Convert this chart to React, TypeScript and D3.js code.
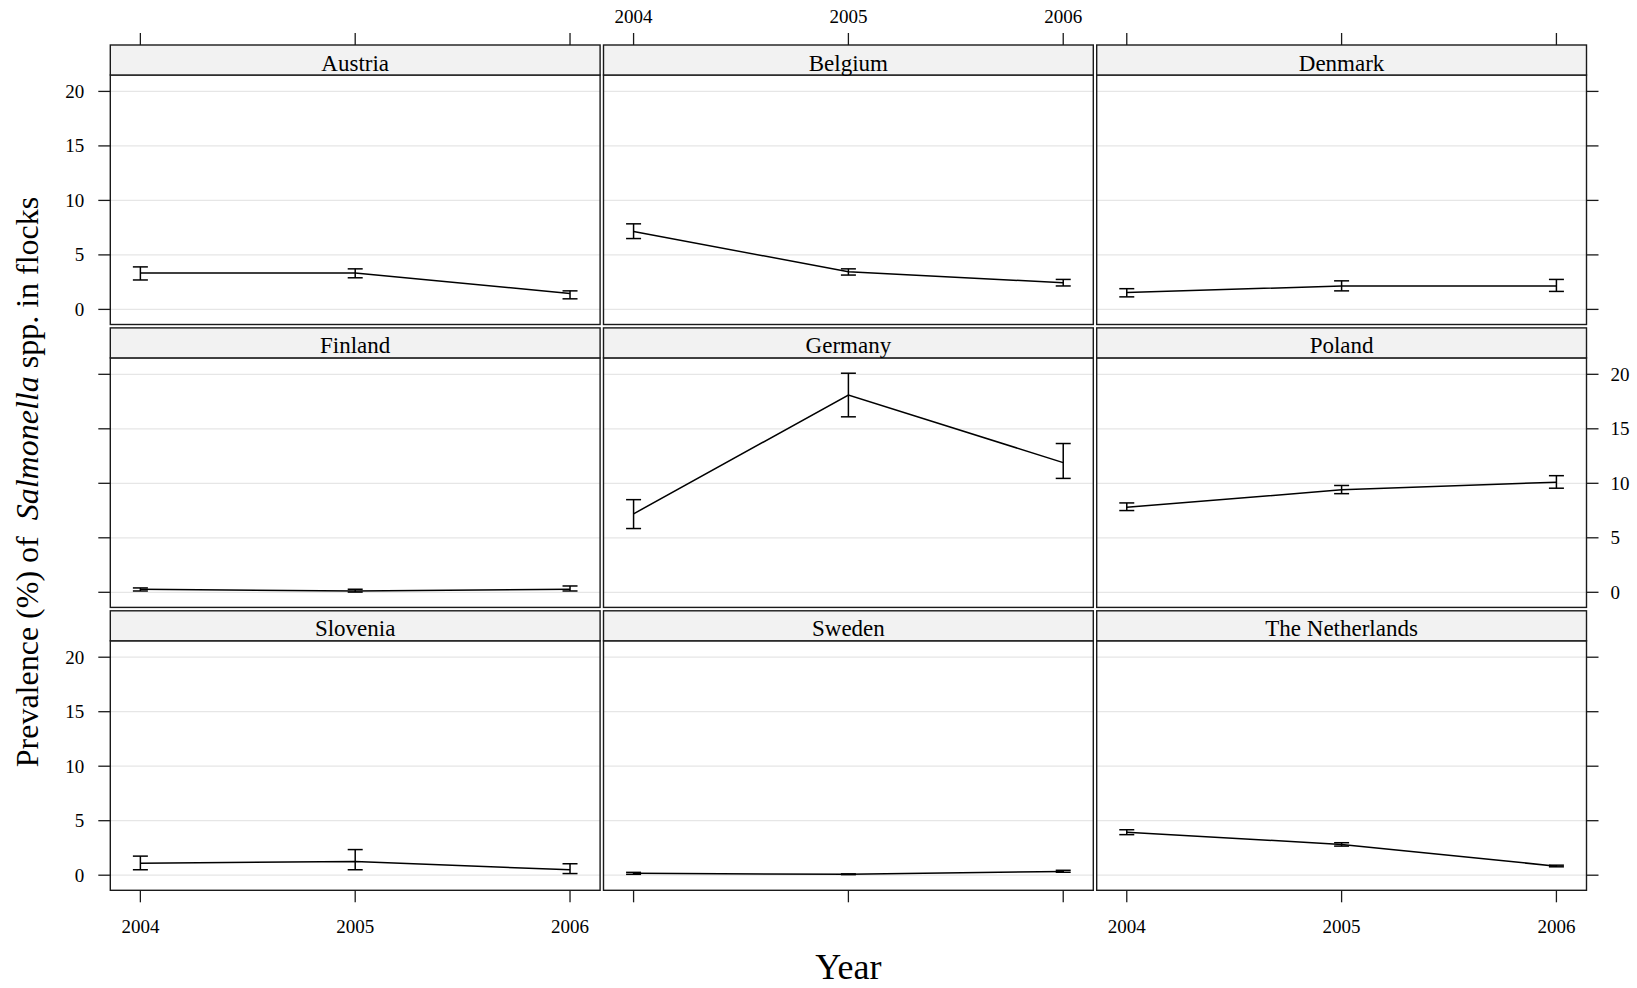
import React from "react";
import * as d3 from "d3";

const countries = ["Austria", "Belgium", "Denmark", "Finland", "Germany", "Poland", "Slovenia", "Sweden", "The Netherlands"];
const years = [2004, 2005, 2006];
const estimate = [
  [3.35, 3.35, 1.45],
  [7.15, 3.45, 2.45],
  [1.55, 2.15, 2.15],
  [0.28, 0.12, 0.28],
  [7.2, 18.1, 11.9],
  [7.8, 9.4, 10.1],
  [1.1, 1.25, 0.5],
  [0.17, 0.08, 0.35],
  [3.95, 2.82, 0.83],
];
const lower = [
  [2.7, 2.9, 0.97],
  [6.5, 3.15, 2.15],
  [1.15, 1.7, 1.65],
  [0.12, 0.02, 0.12],
  [5.85, 16.1, 10.45],
  [7.5, 9.05, 9.55],
  [0.5, 0.5, 0.15],
  [0.08, 0.05, 0.27],
  [3.72, 2.67, 0.77],
];
const upper = [
  [3.9, 3.72, 1.7],
  [7.85, 3.72, 2.75],
  [1.9, 2.62, 2.75],
  [0.4, 0.28, 0.58],
  [8.5, 20.1, 13.65],
  [8.2, 9.8, 10.7],
  [1.75, 2.35, 1.05],
  [0.26, 0.12, 0.45],
  [4.17, 2.98, 0.92],
];
const yTicks = [0, 5, 10, 15, 20];
const xTickLabels = ["2004", "2005", "2006"];

const W = 1637;
const H = 988;
const LEFT = 110.3;
const PW = 489.8;
const GX = 3.4;
const TOP = 45;
const SH = 30;
const PH = 249.5;
const GY = 3.4;
const NCOL = 3;
const TICK = 12;
const FONT = "'Liberation Serif', 'Times New Roman', serif";
const STROKE = "#1a1a1a";

export default function App() {
  const yMin = d3.min(lower.flat())!;
  const yMax = d3.max(upper.flat())!;
  const yPad = (yMax - yMin) * 0.07;
  const xMin = d3.min(years)!;
  const xMax = d3.max(years)!;
  const xPad = (xMax - xMin) * 0.07;

  const x = d3.scaleLinear().domain([xMin - xPad, xMax + xPad]).range([0, PW]);
  const y = d3.scaleLinear().domain([yMin - yPad, yMax + yPad]).range([PH, 0]);
  const line = d3
    .line<number>()
    .x((_, i) => x(years[i]))
    .y((d) => y(d));

  const nRow = Math.ceil(countries.length / NCOL);
  const capHalf = 7.5;

  return (
    <svg width={W} height={H} style={{ position: "absolute", left: 0, top: 0, background: "#fff" }} fontFamily={FONT}>
      {countries.map((c, k) => {
        const col = k % NCOL;
        const row = Math.floor(k / NCOL);
        const px = LEFT + col * (PW + GX);
        const sy = TOP + row * (SH + PH + GY);
        const py = sy + SH;
        const isLeft = col === 0;
        const isRight = col === NCOL - 1;
        const isTop = row === 0;
        const isBottom = row === nRow - 1;
        const labelLeft = isLeft && row % 2 === 0;
        const labelRight = isRight && row % 2 === 1;
        const labelBottom = isBottom && col % 2 === 0;
        const labelTop = isTop && col % 2 === 1;
        return (
          <g key={c}>
            <g transform={`translate(${px},${py})`}>
              {yTicks.map((t) => (
                <line key={t} x1={0} x2={PW} y1={y(t)} y2={y(t)} stroke="#e6e6e6" strokeWidth={1.3} />
              ))}
              <path d={line(estimate[k]) || ""} fill="none" stroke="#000" strokeWidth={1.5} />
              {years.map((yr, i) => (
                <g key={yr} stroke="#000" strokeWidth={1.5}>
                  <line x1={x(yr)} x2={x(yr)} y1={y(lower[k][i])} y2={y(upper[k][i])} />
                  <line x1={x(yr) - capHalf} x2={x(yr) + capHalf} y1={y(lower[k][i])} y2={y(lower[k][i])} />
                  <line x1={x(yr) - capHalf} x2={x(yr) + capHalf} y1={y(upper[k][i])} y2={y(upper[k][i])} />
                </g>
              ))}
              <rect x={0} y={0} width={PW} height={PH} fill="none" stroke={STROKE} strokeWidth={1.4} />
            </g>
            <rect x={px} y={sy} width={PW} height={SH} fill="#f2f2f2" stroke={STROKE} strokeWidth={1.4} />
            <text x={px + PW / 2} y={sy + SH / 2 + 10.5} textAnchor="middle" fontSize={23} fill="#000">
              {c}
            </text>
            {isLeft &&
              yTicks.map((t) => (
                <g key={"l" + t}>
                  <line x1={px - TICK} x2={px} y1={py + y(t)} y2={py + y(t)} stroke={STROKE} strokeWidth={1.3} />
                  {labelLeft && (
                    <text x={px - 26} y={py + y(t) + 6.5} textAnchor="end" fontSize={19}>
                      {t}
                    </text>
                  )}
                </g>
              ))}
            {isRight &&
              yTicks.map((t) => (
                <g key={"r" + t}>
                  <line x1={px + PW} x2={px + PW + TICK} y1={py + y(t)} y2={py + y(t)} stroke={STROKE} strokeWidth={1.3} />
                  {labelRight && (
                    <text x={px + PW + 24} y={py + y(t) + 6.5} textAnchor="start" fontSize={19}>
                      {t}
                    </text>
                  )}
                </g>
              ))}
            {isTop &&
              years.map((yr, i) => (
                <g key={"t" + yr}>
                  <line x1={px + x(yr)} x2={px + x(yr)} y1={sy - TICK} y2={sy} stroke={STROKE} strokeWidth={1.3} />
                  {labelTop && (
                    <text x={px + x(yr)} y={23} textAnchor="middle" fontSize={19}>
                      {xTickLabels[i]}
                    </text>
                  )}
                </g>
              ))}
            {isBottom &&
              years.map((yr, i) => (
                <g key={"b" + yr}>
                  <line x1={px + x(yr)} x2={px + x(yr)} y1={py + PH} y2={py + PH + TICK} stroke={STROKE} strokeWidth={1.3} />
                  {labelBottom && (
                    <text x={px + x(yr)} y={933} textAnchor="middle" fontSize={19}>
                      {xTickLabels[i]}
                    </text>
                  )}
                </g>
              ))}
          </g>
        );
      })}
      <text x={LEFT + (3 * PW + 2 * GX) / 2} y={979} textAnchor="middle" fontSize={36}>
        Year
      </text>
      <text transform={`translate(38,482) rotate(-90)`} textAnchor="middle" fontSize={32}>
        Prevalence (%) of{"\u00a0\u00a0"}
        <tspan fontStyle="italic">Salmonella</tspan> spp. in flocks
      </text>
    </svg>
  );
}
